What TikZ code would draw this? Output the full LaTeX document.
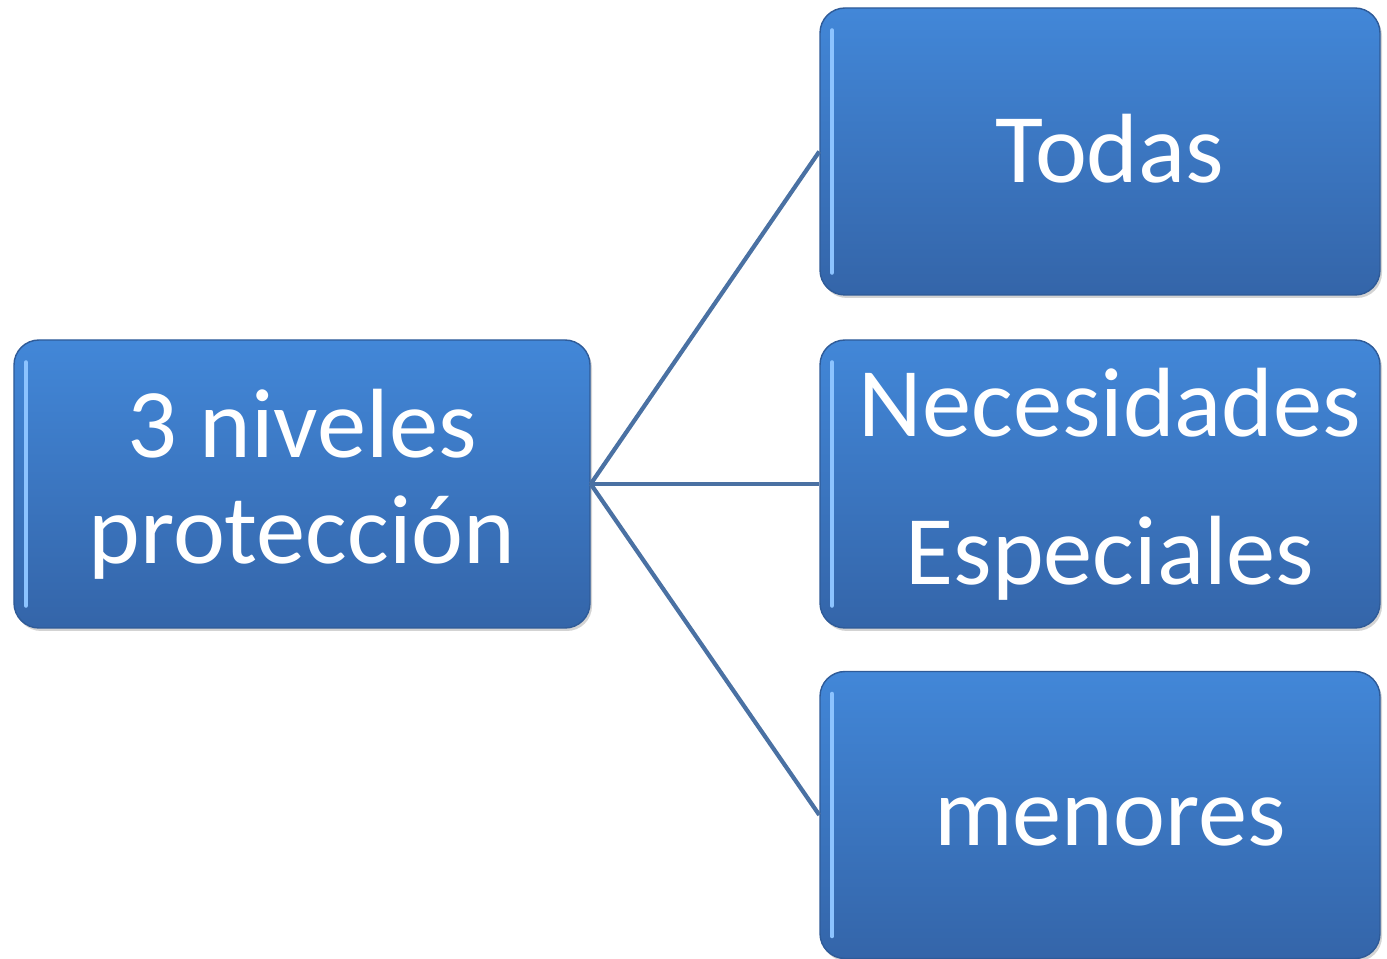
\documentclass[tikz,border=0pt]{standalone}
\usepackage{fontspec}
\setmainfont{Carlito}
\usetikzlibrary{positioning, shadows}

\definecolor{boxtop}{HTML}{4287D8}
\definecolor{boxbot}{HTML}{3465A9}
\definecolor{boxline}{HTML}{2F5B98}
\definecolor{linkcol}{HTML}{4A71A3}
\definecolor{shine}{HTML}{8CC3FF}

\newcommand{\mover}[3]{\hspace*{#1}\raisebox{#2}[\height][\depth]{#3}}

\tikzset{
    nivel/.style={rectangle, rounded corners=0.5cm, top color=boxtop, bottom color=boxbot,
        draw=boxline, line width=0.8pt, text=white, align=center,
        font=\fontsize{56}{62}\selectfont, inner sep=0pt,
        drop shadow={shadow xshift=0.04cm, shadow yshift=-0.06cm, opacity=0.35},
        path picture={
            \draw[shine, line width=2.6pt, line cap=round]
                ([xshift=0.24cm, yshift=-0.45cm]path picture bounding box.north west) --
                ([xshift=0.24cm, yshift=0.45cm]path picture bounding box.south west);
        }},
    rama/.style={draw=linkcol, line width=2.4pt}
}

\begin{document}
\begin{tikzpicture}
    \useasboundingbox (0,0) rectangle (27.74,-19.18);

    \node[nivel, minimum width=11.52cm, minimum height=5.76cm] (raiz) at (6.04,-9.68)
        {3 niveles\\[-0.05cm]protección}; % centro
    \node[nivel, minimum width=11.2cm, minimum height=5.74cm] (todas) at (22.0,-3.03)
        {\mover{0.4cm}{0.06cm}{Todas}}; % arriba
    \node[nivel, minimum width=11.2cm, minimum height=5.76cm, font=\fontsize{56}{84}\selectfont]
        (nee) at (22.0,-9.68) {\hspace*{0.4cm}Necesidades\\\hspace*{0.4cm}Especiales}; % medio
    \node[nivel, minimum width=11.2cm, minimum height=5.74cm] (menores) at (22.0,-16.3)
        {\mover{0.4cm}{-0.14cm}{menores}}; % abajo

    \draw[rama] (raiz.east) -- (todas.west);
    \draw[rama] (raiz.east) -- (nee.west);
    \draw[rama] (raiz.east) -- (menores.west);
\end{tikzpicture}
\end{document}
